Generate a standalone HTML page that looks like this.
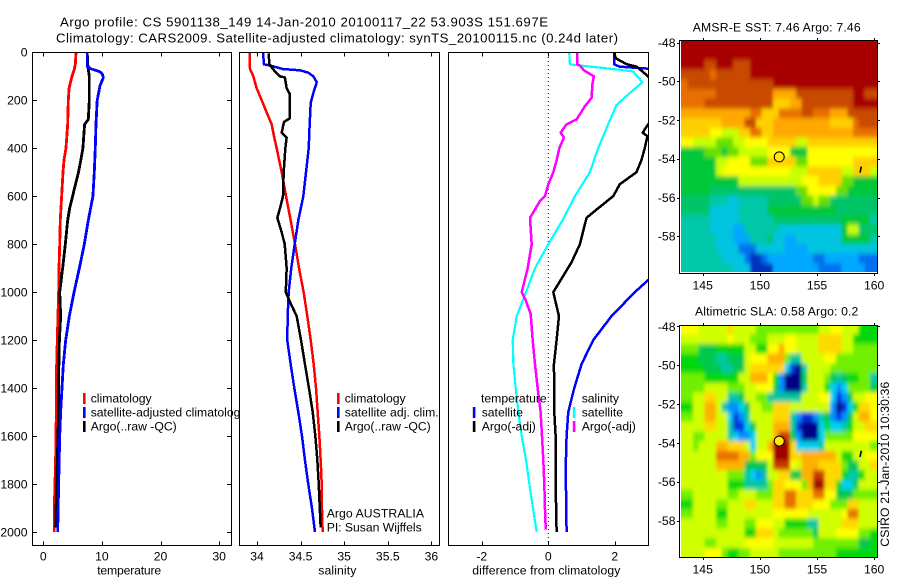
<!DOCTYPE html>
<html lang="en">
<head>
<meta charset="utf-8">
<title>Argo profile chart</title>
<style>
html,body{margin:0;padding:0;background:#fff;}
svg{display:block;}
text{font-family:"Liberation Sans",sans-serif;font-size:12.2px;fill:#000;}
</style>
</head>
<body>
<svg id="chart" xmlns="http://www.w3.org/2000/svg" width="900" height="580" viewBox="0 0 900 580">
<defs>
<clipPath id="clip-temp"><rect x="33" y="53" width="198" height="492"/></clipPath>
<clipPath id="clip-sal"><rect x="240" y="53" width="199" height="492"/></clipPath>
<clipPath id="clip-diff"><rect x="449" y="53" width="199" height="492"/></clipPath>
<clipPath id="clip-legend-1"><rect x="0" y="380" width="239" height="60"/></clipPath>
<clipPath id="clip-sst"><rect x="681" y="41" width="196" height="231"/></clipPath>
<clipPath id="clip-sla"><rect x="681" y="326" width="196" height="231"/></clipPath>
<filter id="smooth-map" filterUnits="userSpaceOnUse" x="640" y="0" width="260" height="580"><feGaussianBlur stdDeviation="1.6 2.4"/></filter>
</defs>
<rect x="0" y="0" width="900" height="580" fill="#fff"/>
<g id="layer-marks"></g>

<text x="60" y="26.7" style="font-size:13.2px" textLength="488" lengthAdjust="spacing">Argo profile: CS 5901138_149 14-Jan-2010 20100117_22 53.903S 151.697E</text>
<text x="56" y="42.7" style="font-size:13.2px" textLength="562" lengthAdjust="spacing">Climatology: CARS2009. Satellite-adjusted climatology: synTS_20100115.nc (0.24d later)</text>

<text x="129.2" y="574.3" text-anchor="middle" textLength="64" lengthAdjust="spacing">temperature</text>
<text x="337.3" y="574.3" text-anchor="middle" textLength="38" lengthAdjust="spacing">salinity</text>
<text x="546.3" y="574.3" text-anchor="middle" textLength="148" lengthAdjust="spacing">difference from climatology</text>

<g>
<rect x="83" y="393" width="2.6" height="11" fill="#f00"/>
<rect x="83" y="407" width="2.6" height="11" fill="#00f"/>
<rect x="83" y="421" width="2.6" height="11" fill="#000"/>
<text x="90.7" y="402.3">climatology</text>
<text x="90.7" y="416.3" clip-path="url(#clip-legend-1)">satellite-adjusted climatology</text>
<text x="90.7" y="430.3">Argo(..raw -QC)</text>
</g>
<g>
<rect x="337" y="393" width="2.6" height="11" fill="#f00"/>
<rect x="337" y="407" width="2.6" height="11" fill="#00f"/>
<rect x="337" y="421" width="2.6" height="11" fill="#000"/>
<text x="344.7" y="402.3">climatology</text>
<text x="344.7" y="416.3" textLength="94" lengthAdjust="spacing">satellite adj. clim.</text>
<text x="344.7" y="430.3">Argo(..raw -QC)</text>
</g>
<text x="326.7" y="517.3" textLength="97.3" lengthAdjust="spacing">Argo AUSTRALIA</text>
<text x="326.7" y="531.3" textLength="95" lengthAdjust="spacing">PI: Susan Wijffels</text>
<g>
<text x="481" y="402.3">temperature</text>
<rect x="472.8" y="407" width="2.6" height="11" fill="#00f"/>
<rect x="472.8" y="421" width="2.6" height="11" fill="#000"/>
<text x="481.7" y="416.3">satellite</text>
<text x="481.7" y="430.3">Argo(-adj)</text>
<text x="581.7" y="402.3">salinity</text>
<rect x="572.8" y="407" width="2.6" height="11" fill="#0ff"/>
<rect x="572.8" y="421" width="2.6" height="11" fill="#f0f"/>
<text x="581.7" y="416.3">satellite</text>
<text x="581.7" y="430.3">Argo(-adj)</text>
</g>

<text x="692.7" y="31.7" textLength="168" lengthAdjust="spacing">AMSR-E SST: 7.46 Argo: 7.46</text>
<text x="695" y="315.7" textLength="163.3" lengthAdjust="spacing">Altimetric SLA: 0.58 Argo: 0.2</text>
<text transform="translate(889,546.7) rotate(-90)" textLength="165" lengthAdjust="spacing">CSIRO 21-Jan-2010 10:30:36</text>
</svg>

<script>
// ---------- profile axes ----------
var depthTicks = [0, 200, 400, 600, 800, 1000, 1200, 1400, 1600, 1800, 2000];
var tempTicks = [0, 10, 20, 30];
var salTicks = [34, 34.5, 35, 35.5, 36];
var salTickLabels = ['34', '34.5', '35', '35.5', '36'];
var diffTicks = [-2, 0, 2];

// ---------- temperature panel ----------
var tempClimDepth = [0, 50, 75, 100, 150, 200, 300, 400, 450, 500, 600, 700, 800, 900, 1000, 1100, 1300, 1500, 1700, 1900, 2000];
var tempClimValues = [5.58, 5.47, 5.24, 4.9, 4.4, 4.27, 4.16, 3.87, 3.53, 3.36, 3.13, 2.9, 2.8, 2.68, 2.62, 2.5, 2.28, 2.22, 2.1, 1.88, 1.88];
var tempSatDepth = [0, 60, 70, 80, 90, 105, 140, 200, 300, 400, 500, 600, 700, 800, 900, 1000, 1100, 1200, 1300, 1400, 1500, 1600, 1800, 2000];
var tempSatValues = [7.51, 7.51, 8.25, 9.56, 10.07, 10.25, 9.67, 9.2, 8.99, 8.87, 8.7, 8.47, 7.68, 7.0, 6.15, 5.25, 4.44, 3.82, 3.42, 3.19, 2.96, 2.8, 2.62, 2.45];
var tempArgoDepth = [4, 60, 100, 200, 280, 300, 400, 450, 500, 550, 600, 650, 700, 800, 900, 1000, 1100, 1200, 1400, 1500, 1600, 1800, 1980];
var tempArgoValues = [7.5, 7.62, 7.85, 7.85, 7.68, 7.05, 6.76, 6.4, 6.0, 5.5, 5.0, 4.5, 4.16, 3.76, 3.3, 2.8, 2.96, 2.75, 2.57, 2.6, 2.5, 2.28, 2.1];

// ---------- salinity panel ----------
var salClimDepth = [0, 70, 100, 150, 200, 250, 300, 350, 400, 500, 600, 700, 800, 900, 1000, 1100, 1200, 1300, 1400, 1500, 1600, 1700, 1800, 1900, 2000];
var salClimValues = [33.916, 33.92, 33.958, 33.996, 34.054, 34.11, 34.168, 34.195, 34.226, 34.283, 34.333, 34.386, 34.436, 34.482, 34.535, 34.577, 34.616, 34.65, 34.677, 34.696, 34.715, 34.73, 34.742, 34.745, 34.753];
var salSatDepth = [0, 50, 55, 70, 75, 85, 100, 125, 170, 210, 300, 400, 500, 600, 700, 800, 900, 1000, 1100, 1200, 1300, 1400, 1500, 1600, 1700, 1800, 1900, 2000];
var salSatValues = [34.069, 34.08, 34.149, 34.3, 34.493, 34.588, 34.646, 34.685, 34.646, 34.616, 34.604, 34.593, 34.562, 34.531, 34.474, 34.432, 34.393, 34.363, 34.352, 34.347, 34.386, 34.428, 34.474, 34.516, 34.55, 34.588, 34.63, 34.665];
var salArgoDepth = [4, 50, 75, 100, 105, 150, 175, 275, 290, 335, 355, 400, 500, 600, 650, 690, 750, 800, 900, 1000, 1050, 1100, 1200, 1300, 1400, 1500, 1600, 1700, 1800, 1900, 1980];
var salArgoValues = [34.134, 34.141, 34.195, 34.264, 34.32, 34.34, 34.378, 34.378, 34.31, 34.283, 34.34, 34.325, 34.306, 34.298, 34.264, 34.233, 34.283, 34.318, 34.34, 34.33, 34.39, 34.455, 34.505, 34.55, 34.596, 34.639, 34.669, 34.692, 34.708, 34.72, 34.73];

// ---------- difference panel ----------
var diffTempSatDepth = [0, 50, 60, 70, 100, 200, 500, 800, 900, 950, 1000, 1100, 1200, 1300, 1400, 1500, 1600, 1700, 1800, 2000];
var diffTempSatValues = [1.98, 1.98, 2.15, 3.2, 5.3, 4.9, 5.3, 4.2, 3.5, 3.0, 2.6, 1.9, 1.35, 1.0, 0.78, 0.6, 0.55, 0.53, 0.53, 0.55];
var diffTempArgoDepth = [0, 25, 50, 60, 100, 150, 280, 300, 335, 350, 400, 450, 500, 550, 600, 650, 690, 800, 875, 1000, 1100, 1200, 1300, 1500, 1600, 1800, 2000];
var diffTempArgoValues = [1.98, 2.03, 2.36, 2.66, 3.0, 3.3, 3.3, 3.0, 2.84, 2.98, 2.9, 2.8, 2.65, 2.15, 1.95, 1.5, 1.15, 0.95, 0.7, 0.15, 0.32, 0.25, 0.17, 0.18, 0.22, 0.22, 0.25];
var diffSalSatDepth = [0, 50, 55, 73, 80, 125, 170, 220, 300, 350, 400, 500, 600, 700, 800, 900, 1000, 1100, 1200, 1300, 1400, 1500, 1600, 1700, 1800, 1900, 2000];
var diffSalSatValues = [0.63, 0.65, 0.95, 2.15, 2.55, 2.83, 2.45, 2.05, 1.8, 1.65, 1.5, 1.25, 0.8, 0.43, 0, -0.4, -0.67, -0.95, -1.07, -1.05, -0.98, -0.9, -0.8, -0.67, -0.57, -0.46, -0.35];
var diffSalArgoDepth = [0, 50, 55, 75, 100, 130, 190, 225, 280, 300, 335, 355, 400, 450, 500, 550, 600, 620, 690, 800, 900, 1000, 1030, 1090, 1200, 1300, 1400, 1500, 1600, 1700, 1800, 1950, 1990];
var diffSalArgoValues = [0.87, 0.87, 0.95, 1.07, 1.37, 1.33, 1.3, 1.1, 0.85, 0.55, 0.37, 0.47, 0.33, 0.25, 0.15, 0, -0.1, -0.25, -0.55, -0.5, -0.62, -0.8, -0.69, -0.53, -0.47, -0.4, -0.32, -0.23, -0.19, -0.15, -0.12, -0.09, -0.07];

// ---------- maps ----------
var lonTicks = [145, 150, 155, 160];
var latTicks = [-48, -50, -52, -54, -56, -58];
var floatLon = 151.697;
var floatLat = -53.903;
var trackLon = [158.88, 158.76];
var trackLat = [-54.4, -54.72];
var sstColors = ['#0030c0', '#0070f0', '#00a8ff', '#00c4e0', '#00c8a8', '#00c468', '#00c838', '#68e000', '#c8ff00', '#ffff00', '#ffd000', '#ffa800', '#e87000', '#c84800', '#a80000'];
var slaColors = ['#000088', '#0030e0', '#0090ff', '#00d0f0', '#00c8a0', '#00c850', '#00d810', '#70f000', '#d0ff00', '#ffff00', '#ffd800', '#ffb000', '#e87000', '#c83800', '#a00000'];
var sstLevels = [
[14,14,14,14,14,14,14,14,14,14,14,14,14,14,14,14,14,14,14,14,14,14,14,14,14,14,14,14,14,14,14,14,14,14],
[14,14,14,14,14,14,14,14,14,14,14,14,14,14,14,14,14,14,14,14,14,14,14,14,14,14,14,14,14,14,14,14,14,14],
[14,14,14,14,13,13,14,14,14,13,13,13,14,14,14,14,14,14,14,14,14,14,14,14,14,14,14,14,14,14,14,14,14,14],
[13,13,13,13,13,12,13,13,13,13,13,13,14,14,14,14,14,14,14,14,14,14,14,14,14,14,14,14,14,14,14,14,14,14],
[12,13,13,13,13,13,13,13,13,13,13,13,13,13,13,13,14,14,14,14,14,14,14,14,14,14,14,14,14,14,14,14,14,14],
[12,12,12,12,12,12,13,13,13,13,13,13,13,13,13,13,11,11,11,11,13,13,13,13,13,13,13,13,13,13,14,14,13,13],
[12,12,12,12,13,13,13,13,13,13,13,13,13,13,13,13,10,10,10,11,11,13,13,13,13,13,13,13,13,13,14,14,14,14],
[11,11,11,11,11,11,11,11,11,11,11,11,12,12,10,10,10,12,12,12,12,13,13,12,12,12,11,11,11,13,13,13,13,13],
[10,10,10,10,10,10,10,11,11,11,11,13,13,10,10,10,11,11,11,11,11,11,11,11,11,11,10,10,10,10,12,13,13,13],
[10,10,10,10,10,9,9,8,8,8,10,10,12,12,10,10,11,11,11,11,11,11,11,11,11,11,11,11,11,11,12,12,12,12],
[9,9,8,8,8,8,7,7,7,8,8,9,9,9,9,10,10,10,10,10,8,8,10,10,10,10,10,10,10,10,10,10,10,10],
[6,6,6,6,7,7,7,6,7,7,8,8,8,8,8,9,9,9,9,6,6,6,9,9,9,9,9,9,9,9,9,9,9,9],
[6,6,6,6,6,6,8,8,9,9,9,9,7,7,7,10,10,10,10,10,7,7,9,9,9,9,9,9,9,9,10,10,10,10],
[6,6,6,6,6,6,8,9,9,9,9,9,9,9,9,9,9,9,9,8,8,8,10,10,10,10,10,10,8,8,10,10,10,8],
[6,6,6,6,6,6,6,6,6,6,8,8,8,8,8,8,8,8,8,8,8,9,9,9,10,10,10,10,7,7,6,6,6,6],
[6,6,6,6,6,5,5,5,5,5,5,5,5,5,5,5,5,5,5,5,7,7,9,9,9,9,9,7,7,6,6,6,6,6],
[5,5,5,5,5,4,4,4,3,3,4,4,4,4,4,5,5,5,5,5,5,7,7,8,7,7,5,5,5,5,5,5,5,5],
[5,5,5,5,5,3,3,3,3,3,4,4,4,4,4,6,6,6,6,6,6,6,6,6,6,6,6,5,5,5,5,5,5,5],
[4,4,4,4,4,3,3,3,3,3,4,4,4,4,4,4,5,5,5,5,5,5,5,5,5,5,5,5,6,6,6,6,6,4],
[4,4,4,4,4,3,3,3,3,2,2,4,4,4,4,4,4,3,3,3,3,3,3,3,3,3,3,3,6,8,8,5,5,5],
[4,4,4,4,4,4,3,3,3,2,2,2,4,4,4,5,3,3,2,2,3,3,3,3,3,3,3,3,6,6,6,6,6,4],
[4,4,4,4,4,4,3,3,3,3,1,1,1,3,3,3,3,3,2,2,2,2,3,3,3,3,3,3,3,3,3,3,3,3],
[4,4,4,4,4,4,4,3,3,3,3,1,0,0,1,2,2,2,2,2,2,2,2,1,1,2,2,2,2,2,2,1,1,1],
[4,4,4,4,4,4,4,4,4,3,3,3,0,0,0,0,2,2,2,2,2,2,2,2,1,1,1,1,2,2,2,2,1,1]
];
var slaLevels = [
[9,9,9,8,8,8,8,8,10,8,8,8,8,7,7,7,7,7,7,7,7,7,7,7,8,8,9,9,8,8,8,6,6,6],
[8,8,8,8,8,8,8,8,9,8,8,8,7,7,7,8,8,8,9,9,8,8,8,8,10,10,10,10,8,8,6,6,6,6],
[7,7,7,5,5,5,6,6,6,6,6,8,8,6,6,9,9,11,9,9,8,8,8,8,10,10,10,10,8,8,7,7,7,7],
[6,6,6,5,5,5,4,4,5,5,5,8,9,9,9,11,11,11,7,4,4,8,8,8,8,9,9,7,7,7,7,7,7,7],
[6,6,6,6,5,5,5,4,4,5,5,8,10,10,10,10,10,10,3,1,0,4,8,8,8,8,7,7,7,7,7,7,7,7],
[7,7,7,7,6,6,6,6,6,6,8,8,11,11,11,9,6,2,0,0,0,5,8,8,8,7,5,4,5,6,6,7,7,4],
[7,7,7,7,8,8,8,8,7,7,7,8,8,9,9,9,5,2,0,0,0,4,8,8,8,6,3,2,3,7,7,7,7,5],
[7,7,8,8,10,10,8,8,4,4,5,8,8,7,7,4,4,4,4,4,4,8,8,8,9,9,3,1,2,5,8,8,9,9],
[6,6,8,8,11,11,8,4,2,2,3,5,8,8,7,7,10,10,10,8,8,8,8,8,8,8,2,0,1,3,6,10,10,9],
[7,7,8,8,11,11,8,8,3,1,2,4,8,8,8,8,10,10,10,4,2,1,1,2,4,5,2,1,2,5,8,11,11,9],
[8,8,8,8,10,10,8,8,4,1,1,3,5,8,8,8,11,11,11,4,1,0,0,0,3,6,3,3,4,6,8,8,10,10],
[8,8,7,7,8,8,8,8,4,3,2,2,3,8,8,8,11,13,13,5,2,0,0,0,3,7,7,7,7,7,9,9,9,9],
[8,8,7,8,8,8,11,11,10,10,10,8,3,8,8,11,14,14,14,10,3,3,3,3,4,8,8,8,8,8,8,8,8,7],
[8,8,8,8,8,8,12,12,12,12,11,11,7,9,9,9,14,14,14,10,10,11,11,11,11,11,11,8,6,6,8,8,9,9],
[8,8,8,8,8,8,11,11,11,11,11,5,5,5,5,8,13,13,13,9,8,11,11,11,10,10,10,10,7,5,5,8,8,10],
[8,8,8,8,8,8,8,8,7,7,7,4,3,2,4,8,8,10,10,5,5,11,11,13,13,10,10,10,6,4,4,6,8,8],
[8,8,8,8,8,8,8,8,6,6,6,4,4,4,4,7,10,10,9,9,9,7,11,14,14,10,10,6,3,3,5,8,8,8],
[7,7,8,8,8,8,8,8,7,7,8,8,8,7,7,7,10,10,12,12,10,10,10,12,12,9,9,5,5,5,7,7,7,7],
[6,6,8,8,8,8,7,7,8,8,8,10,10,8,8,8,10,10,12,12,10,10,10,9,9,9,7,7,7,10,10,8,8,8],
[7,7,8,8,8,8,6,6,8,8,8,8,8,8,8,8,9,9,9,9,9,9,8,8,8,8,8,8,9,12,12,8,8,8],
[8,8,8,8,8,8,7,7,8,8,8,7,7,9,9,9,8,8,6,6,6,6,4,4,8,8,8,8,10,10,10,8,8,8],
[8,8,8,8,8,8,8,8,8,8,8,6,6,10,10,10,8,7,7,7,7,7,7,5,8,8,8,9,9,9,9,7,7,6],
[8,8,8,8,7,7,8,8,8,8,8,9,9,9,9,9,8,8,8,8,8,8,8,7,7,7,7,7,7,7,7,5,5,6],
[8,8,8,8,9,9,9,7,6,6,7,7,8,8,8,8,8,7,7,7,7,7,7,7,7,7,7,6,6,6,6,6,6,6]
];

var SVGNS = 'http://www.w3.org/2000/svg';
var root = document.getElementById('layer-marks');

function make(tag, parent, attrs) {
  var el = document.createElementNS(SVGNS, tag);
  for (var k in attrs) { el.setAttribute(k, attrs[k]); }
  parent.appendChild(el);
  return el;
}

// axis functions
function depthY(d) { return 52.3 + 0.2399 * d; }
function tempX(t) { return 43.3 + 5.86 * t; }
function salX(s) { return 257 + 87.2 * (s - 34); }
function diffX(v) { return 548.3 + 33.25 * v; }
function lonX(lon) { return 702.7 + 11.43 * (lon - 145); }
function sstLatY(lat) { return 81.3 + 19.37 * (-50 - lat); }
function slaLatY(lat) { return 365.3 + 19.42 * (-50 - lat); }

function drawSeries(parent, name, depths, values, xFn, color, width, clipId) {
  var pts = [];
  for (var i = 0; i < depths.length; i++) {
    pts.push(xFn(values[i]).toFixed(2) + ',' + depthY(depths[i]).toFixed(2));
  }
  var line = make('polyline', parent, {
    points: pts.join(' '), fill: 'none', stroke: color, 'stroke-width': width,
    'stroke-linejoin': 'round', 'shape-rendering': 'crispEdges', 'clip-path': 'url(#' + clipId + ')'
  });
  
  
}

function drawFrame(parent, name, x0, y0, x1, y1) {
  var f = make('rect', parent, {
    x: x0, y: y0, width: x1 - x0, height: y1 - y0, fill: 'none', stroke: '#000',
    'stroke-width': 1, 'shape-rendering': 'crispEdges'
  });
  
  
}

function drawTick(parent, x1, y1, x2, y2) {
  var t = make('line', parent, {
    x1: x1, y1: y1, x2: x2, y2: y2, stroke: '#000', 'stroke-width': 1, 'shape-rendering': 'crispEdges'
  });
  
  
}

function drawLabel(parent, x, y, anchor, str) {
  var t = make('text', parent, { x: x, y: y, 'text-anchor': anchor });
  t.textContent = str;
  
  
}

function drawXAxis(parent, ticks, labels, xFn, yTop, yBottom) {
  for (var i = 0; i < ticks.length; i++) {
    var x = Math.round(xFn(ticks[i])) + 0.5;
    drawTick(parent, x, yTop, x, yTop + 4);
    drawTick(parent, x, yBottom, x, yBottom - 4);
    drawLabel(parent, xFn(ticks[i]), 560.3, 'middle', labels[i]);
  }
}

// ---------- temperature panel ----------
var panelTemp = make('g', root, {});


drawSeries(panelTemp, 'temperature-climatology-line', tempClimDepth, tempClimValues, tempX, '#f00', 2.8, 'clip-temp');
drawSeries(panelTemp, 'temperature-argo-line', tempArgoDepth, tempArgoValues, tempX, '#000', 2.8, 'clip-temp');
drawSeries(panelTemp, 'temperature-satellite-line', tempSatDepth, tempSatValues, tempX, '#00f', 2.8, 'clip-temp');
drawFrame(panelTemp, 'temperature-axes-frame', 32.5, 52.5, 231.5, 545.5);
drawXAxis(panelTemp, tempTicks, tempTicks.map(String), tempX, 52.5, 545.5);
depthTicks.forEach(function (d) {
  var y = Math.round(depthY(d)) + 0.5;
  drawTick(panelTemp, 32.5, y, 37, y);
  drawTick(panelTemp, 231.5, y, 227, y);
  drawLabel(panelTemp, 27.5, depthY(d) + 4.3, 'end', String(d));
});

// ---------- salinity panel ----------
var panelSal = make('g', root, {});


drawSeries(panelSal, 'salinity-climatology-line', salClimDepth, salClimValues, salX, '#f00', 2.5, 'clip-sal');
drawSeries(panelSal, 'salinity-satellite-line', salSatDepth, salSatValues, salX, '#00f', 2.5, 'clip-sal');
drawSeries(panelSal, 'salinity-argo-line', salArgoDepth, salArgoValues, salX, '#000', 2.5, 'clip-sal');
drawFrame(panelSal, 'salinity-axes-frame', 239.5, 52.5, 439.5, 545.5);
drawXAxis(panelSal, salTicks, salTickLabels, salX, 52.5, 545.5);

// ---------- difference panel ----------
var panelDiff = make('g', root, {});


var zeroLine = make('line', panelDiff, {
  x1: diffX(0), y1: 53, x2: diffX(0), y2: 545, stroke: '#000', 'stroke-width': 1, 'stroke-dasharray': '1 3'
});


drawSeries(panelDiff, 'difference-temp-satellite-line', diffTempSatDepth, diffTempSatValues, diffX, '#00f', 2.5, 'clip-diff');
drawSeries(panelDiff, 'difference-temp-argo-line', diffTempArgoDepth, diffTempArgoValues, diffX, '#000', 2.5, 'clip-diff');
drawSeries(panelDiff, 'difference-sal-satellite-line', diffSalSatDepth, diffSalSatValues, diffX, '#0ff', 2.2, 'clip-diff');
drawSeries(panelDiff, 'difference-sal-argo-line', diffSalArgoDepth, diffSalArgoValues, diffX, '#f0f', 2.5, 'clip-diff');
drawFrame(panelDiff, 'difference-axes-frame', 448.5, 52.5, 648.5, 545.5);
drawXAxis(panelDiff, diffTicks, diffTicks.map(String), diffX, 52.5, 545.5);

// ---------- maps ----------
function drawMap(name, levels, colors, latY, clipId, frameTop, frameBottom, labelBaseline) {
  var g = make('g', root, {});
  
  
  var clipped = make('g', g, { 'clip-path': 'url(#' + clipId + ')' });
  
  
  var cells = make('g', clipped, { filter: 'url(#smooth-map)', 'shape-rendering': 'crispEdges' });
  
  
  for (var r = 0; r < levels.length; r++) {
    for (var c = 0; c < levels[r].length; c++) {
      var x0 = lonX(143.15 + 0.5 * c);
      var x1 = lonX(143.15 + 0.5 * (c + 1));
      var y0 = latY(-47.9 - 0.5 * r);
      var y1 = latY(-47.9 - 0.5 * (r + 1));
      if (c === 0) { x0 -= 16; }
      if (c === levels[r].length - 1) { x1 += 16; }
      if (r === 0) { y0 -= 16; }
      if (r === levels.length - 1) { y1 += 16; }
      var cell = make('rect', cells, {
        x: x0.toFixed(2), y: y0.toFixed(2), width: (x1 - x0 + 0.6).toFixed(2), height: (y1 - y0 + 0.6).toFixed(2),
        fill: colors[levels[r][c]]
      });
      
      
    }
  }
  drawFrame(g, name + '-frame', 679.5, frameTop, 877.5, frameBottom);
  lonTicks.forEach(function (lon) {
    var x = Math.round(lonX(lon)) + 0.5;
    drawTick(g, x, frameTop, x, frameTop - 2.5);
    drawTick(g, x, frameBottom, x, frameBottom + 2.5);
    drawLabel(g, lonX(lon), labelBaseline, 'middle', String(lon));
  });
  latTicks.forEach(function (lat) {
    var y = Math.round(latY(lat)) + 0.5;
    drawTick(g, 679.5, y, 677, y);
    drawTick(g, 877.5, y, 880, y);
    drawLabel(g, 675.5, latY(lat) + 4.3, 'end', String(lat));
  });
  var pts = [];
  for (var i = 0; i < trackLon.length; i++) {
    pts.push(lonX(trackLon[i]).toFixed(2) + ',' + latY(trackLat[i]).toFixed(2));
  }
  var track = make('polyline', g, { points: pts.join(' '), fill: 'none', stroke: '#000', 'stroke-width': 1.6 });
  
  
  return g;
}

var mapSst = drawMap('sst-map', sstLevels, sstColors, sstLatY, 'clip-sst', 40.5, 273.5, 289.3);
var mapSla = drawMap('sla-map', slaLevels, slaColors, slaLatY, 'clip-sla', 325.5, 557.5, 573.3);

var sstMarker = make('circle', mapSst, {
  cx: lonX(floatLon), cy: sstLatY(floatLat), r: 5, fill: '#ffe800', stroke: '#000', 'stroke-width': 1
});



var slaMarker = make('circle', mapSla, {
  cx: lonX(floatLon), cy: slaLatY(floatLat), r: 5, fill: '#ffe800', stroke: '#000', 'stroke-width': 1
});


</script>
</body>
</html>
